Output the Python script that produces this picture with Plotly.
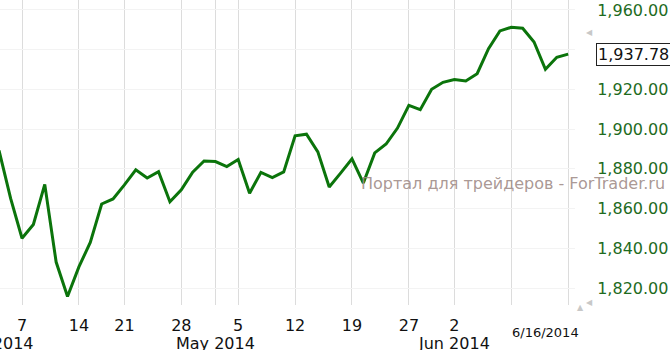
import plotly.graph_objects as go

# ---- data (S&P-style daily closes) ----
dates = [
    "2014-04-01", "2014-04-02", "2014-04-03", "2014-04-04",
    "2014-04-07", "2014-04-08", "2014-04-09", "2014-04-10", "2014-04-11",
    "2014-04-14", "2014-04-15", "2014-04-16", "2014-04-17",
    "2014-04-21", "2014-04-22", "2014-04-23", "2014-04-24", "2014-04-25",
    "2014-04-28", "2014-04-29", "2014-04-30", "2014-05-01", "2014-05-02",
    "2014-05-05", "2014-05-06", "2014-05-07", "2014-05-08", "2014-05-09",
    "2014-05-12", "2014-05-13", "2014-05-14", "2014-05-15", "2014-05-16",
    "2014-05-19", "2014-05-20", "2014-05-21", "2014-05-22", "2014-05-23",
    "2014-05-27", "2014-05-28", "2014-05-29", "2014-05-30",
    "2014-06-02", "2014-06-03", "2014-06-04", "2014-06-05", "2014-06-06",
    "2014-06-09", "2014-06-10", "2014-06-11", "2014-06-12", "2014-06-13",
    "2014-06-16",
]
closes = [
    1885.52, 1890.90, 1888.77, 1865.09,
    1845.04, 1851.96, 1872.18, 1833.08, 1815.69,
    1830.61, 1842.98, 1862.31, 1864.85,
    1871.89, 1879.55, 1875.39, 1878.61, 1863.40,
    1869.43, 1878.33, 1883.95, 1883.68, 1881.14,
    1884.66, 1867.72, 1878.21, 1875.63, 1878.48,
    1896.65, 1897.45, 1888.53, 1870.85, 1877.86,
    1885.08, 1872.83, 1888.03, 1892.49, 1900.53,
    1911.91, 1909.78, 1920.03, 1923.57,
    1924.97, 1924.24, 1927.88, 1940.46, 1949.44,
    1951.27, 1950.79, 1943.89, 1930.11, 1936.16,
    1937.78,
]
tick_dates = ["2014-04-07", "2014-04-14", "2014-04-21", "2014-04-28", "2014-05-01",
              "2014-05-05", "2014-05-12", "2014-05-19", "2014-05-27", "2014-06-02",
              "2014-06-09", "2014-06-16"]
tick_labels = ["7", "14", "21", "28", "", "5", "12", "19", "27", "2", "", ""]
month_dates = ["2014-04-01", "2014-05-01", "2014-06-02"]
month_labels = ["Apr 2014", "May 2014", "Jun 2014"]
last_date_label = "6/16/2014"
y_ticks = [1820, 1840, 1860, 1880, 1900, 1920, 1940, 1960]
y_tick_labels = ["1,820.00", "1,840.00", "1,860.00", "1,880.00", "1,900.00", "1,920.00", "", "1,960.00"]
watermark = "Портал для трейдеров - ForTrader.ru"

FONT = "DejaVu Sans, Verdana, sans-serif"
idx = {d: i for i, d in enumerate(dates)}
x = [idx[d] for d in dates]
X_RANGE = [2.066, 52.6]

fig = go.Figure()
fig.add_trace(go.Scatter(
    x=x, y=closes, mode="lines",
    line=dict(color="#0b740b", width=3),
    hoverinfo="skip", showlegend=False,
))

annotations = []
# month labels
for d, lab in zip(month_dates, month_labels):
    xi = idx[d]
    if xi < X_RANGE[0]:
        # first month starts before the visible window: its label is pushed in, cut at the left edge
        a = dict(x=35 / 575, y=0, xref="paper", yref="paper", text=lab, showarrow=False,
                 xanchor="right", yanchor="middle", yshift=-38,
                 font=dict(family=FONT, size=16, color="#111"))
    else:
        a = dict(x=xi, y=0, xref="x", yref="paper", text=lab, showarrow=False,
                 yanchor="middle", yshift=-38, font=dict(family=FONT, size=16, color="#111"))
    annotations.append(a)
# last date label
annotations.append(dict(x=idx[dates[-1]], y=0, xref="x", yref="paper", text=last_date_label,
                        showarrow=False, xanchor="right", xshift=13, yanchor="middle", yshift=-27,
                        font=dict(family=FONT, size=13, color="#111")))
# last value box
annotations.append(dict(x=1.0365, y=closes[-1], xref="paper", yref="y",
                        text=f"{closes[-1]:,.2f}", showarrow=False, xanchor="left", yanchor="middle",
                        bordercolor="#222", borderwidth=1, borderpad=1, bgcolor="white",
                        font=dict(family=FONT, size=16, color="#111")))
# watermark
annotations.append(dict(x=667 / 575, y=0.4, xref="paper", yref="paper", text=watermark,
                        showarrow=False, xanchor="right", yanchor="middle",
                        font=dict(family=FONT, size=16, color="rgba(160,140,135,0.9)")))
# small scroll triangles
for (px, py, sym) in [(589, 33, "◀"), (589, 302, "◀"), (580, 307, "▲")]:
    annotations.append(dict(x=px / 575, y=1 - py / 305, xref="paper", yref="paper", text=sym,
                            showarrow=False, xanchor="center", yanchor="middle",
                            font=dict(family=FONT, size=8, color="#c8c8c8")))

fig.update_layout(
    width=670, height=350,
    margin=dict(l=0, r=95, t=0, b=45, autoexpand=False),
    paper_bgcolor="white", plot_bgcolor="white",
    showlegend=False,
    xaxis=dict(
        range=X_RANGE, tickmode="array",
        tickvals=[idx[d] for d in tick_dates], ticktext=tick_labels,
        showgrid=True, gridcolor="#dcdcdc", gridwidth=1,
        zeroline=False, showline=False, ticks="outside", ticklen=6,
        tickcolor="rgba(0,0,0,0)", automargin=False,
        tickfont=dict(family=FONT, size=16, color="#111"),
    ),
    yaxis=dict(
        side="right", range=[1811.45, 1965.0], tickmode="array",
        tickvals=y_ticks, ticktext=y_tick_labels,
        showgrid=True, gridcolor="#f3f3f3", gridwidth=1,
        zeroline=False, showline=False, ticks="outside", ticklen=18,
        tickcolor="rgba(0,0,0,0)", automargin=False,
        tickfont=dict(family=FONT, size=16, color="#1e6b1e"),
    ),
    annotations=annotations,
)

fig.write_html("out.html")
